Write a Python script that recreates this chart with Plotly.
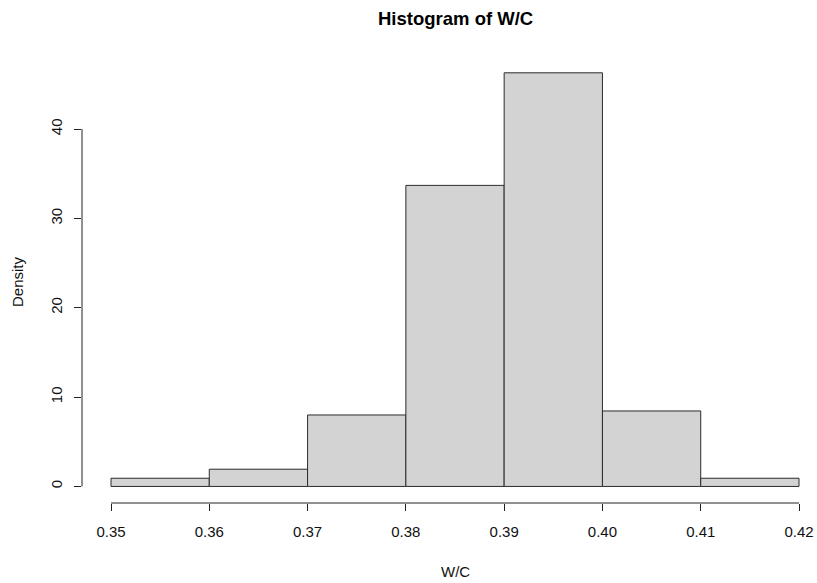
import numpy as np
import plotly.graph_objects as go

# Histogram of W/C: bin edges and density per bin
breaks = [0.35, 0.36, 0.37, 0.38, 0.39, 0.40, 0.41, 0.42]
density = [0.92, 1.93, 8.0, 33.7, 46.3, 8.45, 0.92]
x_ticks = [0.35, 0.36, 0.37, 0.38, 0.39, 0.40, 0.41, 0.42]
x_tick_text = ["0.35", "0.36", "0.37", "0.38", "0.39", "0.40", "0.41", "0.42"]
y_ticks = [0, 10, 20, 30, 40]

edges = np.array(breaks)
mids = (edges[:-1] + edges[1:]) / 2
widths = np.diff(edges)

FONT = "Liberation Sans, Arial, sans-serif"
W, H = 817, 583
ML, MR, MT, MB = 82, 0, 57, 80
plot_w = W - ML - MR
plot_h = H - MT - MB


def px_x(px):
    return (px - ML) / plot_w


def px_y(py):
    return (H - MB - py) / plot_h


fig = go.Figure(
    go.Bar(
        x=mids,
        y=density,
        width=widths,
        marker=dict(color="#D3D3D3", line=dict(color="#2b2b2b", width=1)),
        hoverinfo="x+y",
    )
)

# R-style axes: padded plot region, axis lines only across tick range
ypad = 0.04 * max(density)
fig.update_layout(
    width=W,
    height=H,
    margin=dict(l=ML, r=MR, t=MT, b=MB),
    paper_bgcolor="white",
    plot_bgcolor="white",
    showlegend=False,
    font=dict(family=FONT, size=15, color="#111111"),
    xaxis=dict(
        range=[0.34705, 0.42183],
        tickvals=x_ticks,
        ticktext=x_tick_text,
        ticks="outside",
        ticklen=7,
        tickcolor="#222222",
        tickwidth=1,
        showgrid=False,
        zeroline=False,
        showline=False,
        ticklabelstandoff=8,
    ),
    yaxis=dict(
        range=[-ypad, 48.07],
        tickvals=y_ticks,
        ticks="outside",
        ticklen=7,
        tickcolor="#222222",
        tickwidth=1,
        tickangle=-90,
        showgrid=False,
        zeroline=False,
        showline=False,
        ticklabelstandoff=6,
    ),
    shapes=[
        dict(type="line", xref="x", yref="paper", x0=x_ticks[0], x1=x_ticks[-1],
             y0=0, y1=0, line=dict(color="#222222", width=1)),
        dict(type="line", xref="paper", yref="y", x0=0, x1=0,
             y0=y_ticks[0], y1=y_ticks[-1], line=dict(color="#222222", width=1)),
    ],
    annotations=[
        dict(text="<b>Histogram of W/C</b>", x=0.385, xref="x", y=px_y(18), yref="paper",
             xanchor="center", yanchor="middle",
             showarrow=False, font=dict(size=18.5, family=FONT, color="#000000")),
        dict(text="W/C", x=0.385, xref="x", y=px_y(571), yref="paper",
             xanchor="center", yanchor="middle",
             showarrow=False, font=dict(size=15, family=FONT)),
        dict(text="Density", x=px_x(17), xref="paper", y=px_y(282), yref="paper",
             xanchor="center", yanchor="middle", textangle=-90,
             showarrow=False, font=dict(size=15, family=FONT)),
    ],
)

fig.write_html("out.html")
